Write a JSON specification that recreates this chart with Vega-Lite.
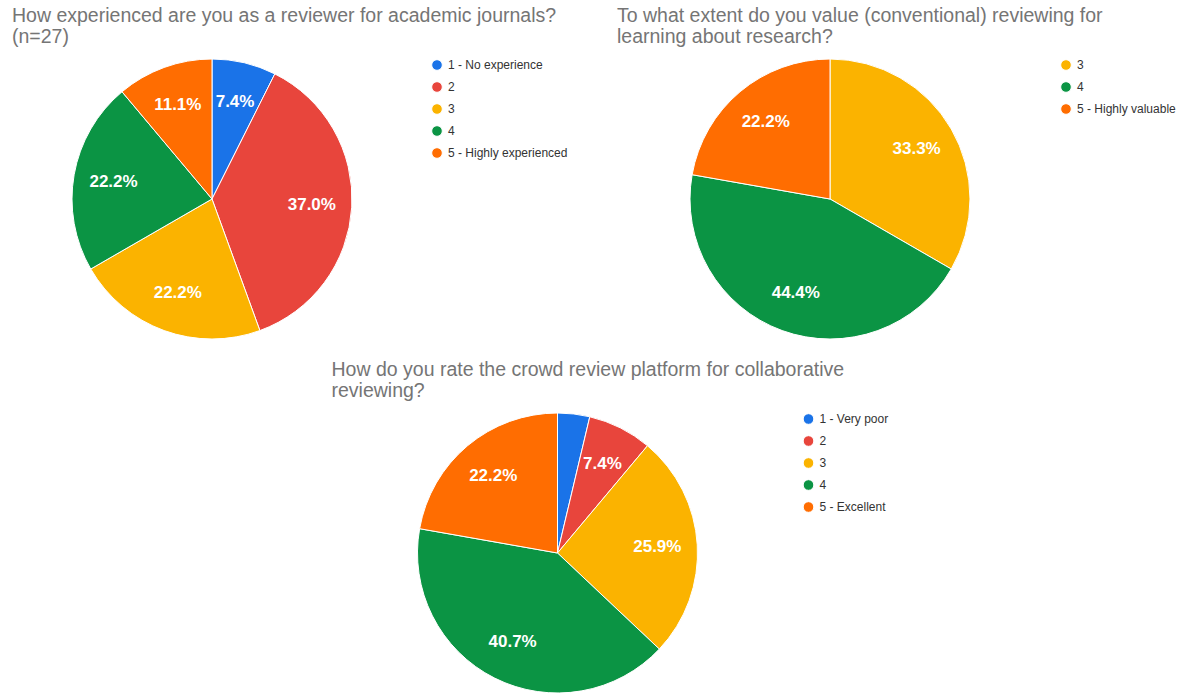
{
  "$schema": "https://vega.github.io/schema/vega-lite/v6.json",
  "background": "white",
  "padding": {"left": 12, "top": 5, "right": 5, "bottom": 0},
  "center": true,
  "spacing": 18,
  "resolve": {"scale": {"color": "independent", "theta": "independent"}, "legend": {"color": "independent"}},
  "config": {
    "view": {"stroke": null},
    "font": "Liberation Sans",
    "title": {"anchor": "start", "fontSize": 19.5, "fontWeight": "normal", "color": "#757575", "lineHeight": 21, "offset": 10, "font": "Liberation Sans"},
    "legend": {"symbolType": "circle", "symbolSize": 113, "symbolStrokeWidth": 0, "labelFontSize": 12, "labelColor": "#333333", "labelOffset": 5, "rowPadding": 6, "padding": 0, "labelFont": "Liberation Sans"},
    "arc": {"stroke": "white", "strokeWidth": 1}
  },
  "vconcat": [
    {
      "hconcat": [
        {
          "title": {"text": ["How experienced are you as a reviewer for academic journals?", "(n=27)"]},
          "width": 400,
          "height": 280,
          "data": {"values": [
            {"cat": "1 - No experience", "count": 2, "label": "7.4%"},
            {"cat": "2", "count": 10, "label": "37.0%"},
            {"cat": "3", "count": 6, "label": "22.2%"},
            {"cat": "4", "count": 6, "label": "22.2%"},
            {"cat": "5 - Highly experienced", "count": 3, "label": "11.1%"}
          ]},
          "encoding": {
            "theta": {"field": "count", "type": "quantitative", "stack": true},
            "order": {"field": "cat", "sort": "ascending"}
          },
          "layer": [
            {"mark": {"type": "arc"},
             "encoding": {"color": {"field": "cat", "type": "nominal", "title": null, "legend": {"offset": 19},
               "scale": {"domain": ["1 - No experience", "2", "3", "4", "5 - Highly experienced"], "range": ["#1A73E8", "#E8453C", "#FBB300", "#0B9444", "#FF6D01"]}}}},
            {"mark": {"type": "text", "radius": 100, "fontSize": 17, "fontWeight": "bold", "color": "white"},
             "encoding": {"text": {"field": "label"}}}
          ]
        },
        {
          "title": {"text": ["To what extent do you value (conventional) reviewing for", "learning about research?"]},
          "width": 426,
          "height": 280,
          "data": {"values": [
            {"cat": "3", "count": 9, "label": "33.3%"},
            {"cat": "4", "count": 12, "label": "44.4%"},
            {"cat": "5 - Highly valuable", "count": 6, "label": "22.2%"}
          ]},
          "encoding": {
            "theta": {"field": "count", "type": "quantitative", "stack": true},
            "order": {"field": "cat", "sort": "ascending"}
          },
          "layer": [
            {"mark": {"type": "arc"},
             "encoding": {"color": {"field": "cat", "type": "nominal", "title": null, "legend": {"offset": 17},
               "scale": {"domain": ["3", "4", "5 - Highly valuable"], "range": ["#FBB300", "#0B9444", "#FF6D01"]}}}},
            {"mark": {"type": "text", "radius": 100, "fontSize": 17, "fontWeight": "bold", "color": "white"},
             "encoding": {"text": {"field": "label"}}}
          ]
        }
      ],
      "spacing": 49,
      "resolve": {"scale": {"color": "independent", "theta": "independent"}, "legend": {"color": "independent"}}
    },
    {
      "title": {"text": ["How do you rate the crowd review platform for collaborative", "reviewing?"], "dx": 32},
      "width": 516,
      "height": 280,
      "data": {"values": [
        {"cat": "1 - Very poor", "count": 1, "label": ""},
        {"cat": "2", "count": 2, "label": "7.4%"},
        {"cat": "3", "count": 7, "label": "25.9%"},
        {"cat": "4", "count": 11, "label": "40.7%"},
        {"cat": "5 - Excellent", "count": 6, "label": "22.2%"}
      ]},
      "encoding": {
        "theta": {"field": "count", "type": "quantitative", "stack": true},
        "order": {"field": "cat", "sort": "ascending"}
      },
      "layer": [
        {"mark": {"type": "arc"},
         "encoding": {"color": {"field": "cat", "type": "nominal", "title": null, "legend": {"offset": -13},
           "scale": {"domain": ["1 - Very poor", "2", "3", "4", "5 - Excellent"], "range": ["#1A73E8", "#E8453C", "#FBB300", "#0B9444", "#FF6D01"]}}}},
        {"mark": {"type": "text", "radius": 100, "fontSize": 17, "fontWeight": "bold", "color": "white"},
         "encoding": {"text": {"field": "label"}}}
      ]
    }
  ]
}
